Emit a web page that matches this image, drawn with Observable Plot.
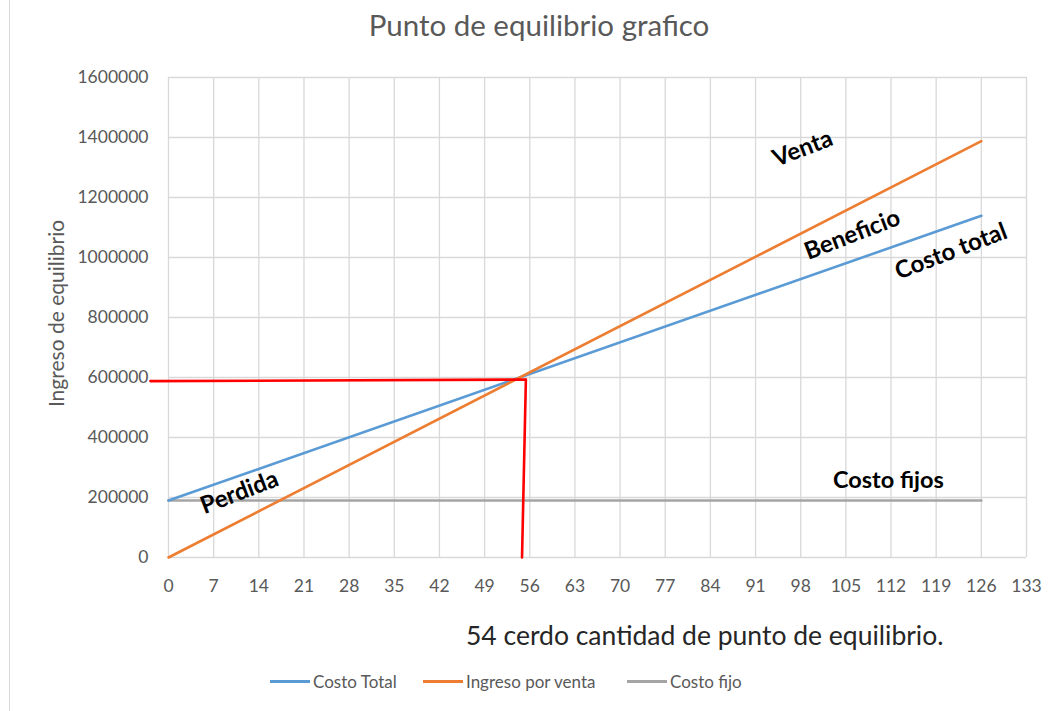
<!DOCTYPE html>
<html>
<head>
<meta charset="utf-8">
<script src="https://cdn.jsdelivr.net/npm/d3@7"></script>
<script src="https://cdn.jsdelivr.net/npm/@observablehq/plot@0.6"></script>
<style>
  html, body { margin: 0; padding: 0; background: #fff; }
  #wrap { position: relative; width: 1057px; height: 711px; overflow: hidden; font-family: Lato, "Open Sans", sans-serif; }
  #border { position: absolute; left: 9px; top: -2px; width: 1px; height: 720px; background: #d9d9d9; }
  #title { position: absolute; left: 0; width: 1078px; top: 7px; text-align: center; font-size: 29.5px; color: #595959; margin: 0; font-weight: normal; line-height: 1.2; }
  #chart { position: absolute; left: 0; top: 0; }
  #caption { position: absolute; left: 466px; top: 620px; font-size: 26.5px; color: #262626; white-space: nowrap; line-height: 1.2; }
  #legend { position: absolute; left: 270px; top: 671px; font-size: 17px; color: #595959; white-space: nowrap; }
  .item { position: absolute; top: 0; display: flex; align-items: center; }
  .sw { width: 40px; height: 3px; margin-right: 3px; }
</style>
</head>
<body>
<div id="wrap">
  <div id="border"></div>
  <div id="chart"></div>
  <h1 id="title">Punto de equilibrio grafico</h1>
  <div id="caption">54 cerdo cantidad de punto de equilibrio.</div>
  <div id="legend"></div>
</div>
<script>
// ---- data ----
const xTicks = [0, 7, 14, 21, 28, 35, 42, 49, 56, 63, 70, 77, 84, 91, 98, 105, 112, 119, 126, 133];
const yTicks = [0, 200000, 400000, 600000, 800000, 1000000, 1200000, 1400000, 1600000];
const cantidad = [0, 126];
const costoTotal = [190000, 1139000];
const ingresoVenta = [0, 1388000];
const costoFijo = [190000, 190000];
// red guide lines (break-even point)
const guideH_x = [-2.8, 55.3];
const guideH_y = [588000, 593000];
const guideV_x = [55.4, 54.8];
const guideV_y = [593000, 0];
// annotations
const annoText = ["Venta", "Beneficio", "Costo total", "Perdida"];
const annoX = [98.3, 106.0, 121.3, 11.0];
const annoY = [1363000, 1076000, 1020000, 217000];
const fijoText = ["Costo fijos"];
const fijoX = [111.6];
const fijoY = [257000];
const yLabel = "Ingreso de equilibrio";
const seriesNames = ["Costo Total", "Ingreso por venta", "Costo fijo"];
const seriesColors = ["#5b9bd5", "#ed7d31", "#a5a5a5"];

const toRows = (xs, ys) => xs.map((x, i) => ({x, y: ys[i]}));

const chart = Plot.plot({
  width: 1057,
  height: 711,
  marginLeft: 168,
  marginRight: 31,
  marginTop: 77,
  marginBottom: 154,
  style: {fontFamily: "Lato, 'Open Sans', sans-serif", background: "transparent", overflow: "visible"},
  x: {domain: [0, 133]},
  y: {domain: [0, 1600000]},
  marks: [
    Plot.gridX(xTicks, {stroke: "#d9d9d9", strokeOpacity: 1, strokeWidth: 1.3}),
    Plot.gridY(yTicks, {stroke: "#d9d9d9", strokeOpacity: 1, strokeWidth: 1.3}),
    Plot.axisX(xTicks, {tickSize: 0, tickPadding: 22, fontSize: 17.5, fill: "#595959", label: null}),
    Plot.axisY(yTicks, {tickSize: 0, tickPadding: 20, fontSize: 17.5, fill: "#595959", tickFormat: d => String(d), label: null}),
    Plot.text([yLabel], {frameAnchor: "left", textAnchor: "middle", rotate: -90, dx: -111, dy: -4, fontSize: 21, fill: "#595959"}),
    Plot.line(toRows(cantidad, costoFijo), {x: "x", y: "y", stroke: seriesColors[2], strokeWidth: 2.6}),
    Plot.line(toRows(cantidad, costoTotal), {x: "x", y: "y", stroke: seriesColors[0], strokeWidth: 2.6}),
    Plot.line(toRows(cantidad, ingresoVenta), {x: "x", y: "y", stroke: seriesColors[1], strokeWidth: 2.6}),
    Plot.line(toRows(guideH_x, guideH_y), {x: "x", y: "y", stroke: "#ff0000", strokeWidth: 2.6}),
    Plot.line(toRows(guideV_x, guideV_y), {x: "x", y: "y", stroke: "#ff0000", strokeWidth: 2.6}),
    Plot.text(annoText.map((t, i) => ({t, x: annoX[i], y: annoY[i]})), {x: "x", y: "y", text: "t", rotate: -21, fontSize: 24, fontWeight: "bold", fill: "#000"}),
    Plot.text(fijoText.map((t, i) => ({t, x: fijoX[i], y: fijoY[i]})), {x: "x", y: "y", text: "t", fontSize: 23.5, fontWeight: "bold", fill: "#000"})
  ]
});
document.getElementById("chart").appendChild(chart);

const legend = document.getElementById("legend");
const offsets = [0, 153, 357];
seriesNames.forEach((n, i) => {
  const it = document.createElement("div");
  it.className = "item";
  it.style.left = offsets[i] + "px";
  it.innerHTML = `<span class="sw" style="background:${seriesColors[i]}"></span><span>${n}</span>`;
  legend.appendChild(it);
});
</script>
</body>
</html>
